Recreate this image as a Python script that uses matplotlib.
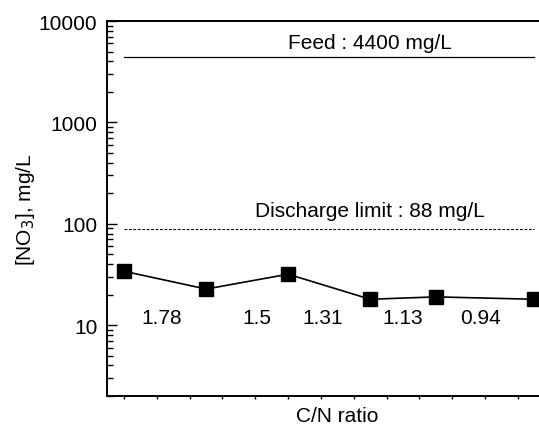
import numpy as np
import matplotlib
matplotlib.use('Agg')
matplotlib.rcParams['font.family'] = 'Liberation Sans'
matplotlib.rcParams['font.size'] = 15
import matplotlib.pyplot as plt
from matplotlib.ticker import LogLocator, NullFormatter, MultipleLocator

# data
x_pos = [0, 2.5, 5, 7.5, 9.5, 12.5]
no3 = [34, 22.7, 31.8, 18, 19, 18]
cn_ratio = ['1.78', '1.5', '1.31', '1.13', '0.94']
cn_x = [1.16, 4.05, 6.04, 8.5, 10.85]
cn_y = 12
feed = 4400
limit = 88

fig = plt.figure(figsize=(5.39, 4.31), dpi=100)
ax = fig.add_axes([107/539, 34/431, 460/539, 375/431])

ax.plot(x_pos, no3, color='black', lw=1.2, marker='s', ms=9.5,
        mfc='black', mec='black')
ax.plot([x_pos[0], x_pos[-1]], [feed, feed], color='black', lw=0.9)
ax.plot([x_pos[0], x_pos[-1]], [limit, limit], color='black', lw=0.8,
        ls=(0, (2.5, 1.5)))

ax.text(7.5, 6200, 'Feed : 4400 mg/L', ha='center', va='center')
ax.text(7.5, 134, 'Discharge limit : 88 mg/L', ha='center', va='center')
for xx, lab in zip(cn_x, cn_ratio):
    ax.text(xx, cn_y, lab, ha='center', va='center')

ax.set_yscale('log')
ax.set_ylim(2, 10000)
ax.set_xlim(-0.52, 13.5)
ax.set_yticks([10, 100, 1000, 10000])
ax.set_yticklabels(['10', '100', '1000', '10000'])
ax.yaxis.set_minor_locator(LogLocator(base=10, subs=np.arange(2, 10)))
ax.yaxis.set_minor_formatter(NullFormatter())
ax.tick_params(axis='y', which='major', direction='in', length=7, width=1, pad=7)
ax.tick_params(axis='y', which='minor', direction='in', length=4, width=1)
ax.xaxis.set_major_locator(MultipleLocator(1))
ax.set_xticklabels([])
ax.tick_params(axis='x', which='major', direction='out', length=2.5, width=1)
for s in ax.spines.values():
    s.set_linewidth(1.4)

ax.set_xlabel('C/N ratio', labelpad=1)
ax.set_ylabel('[NO$_3$], mg/L')
ax.yaxis.set_label_coords(-0.152, 0.5)

fig.savefig('out.png', dpi=100)
